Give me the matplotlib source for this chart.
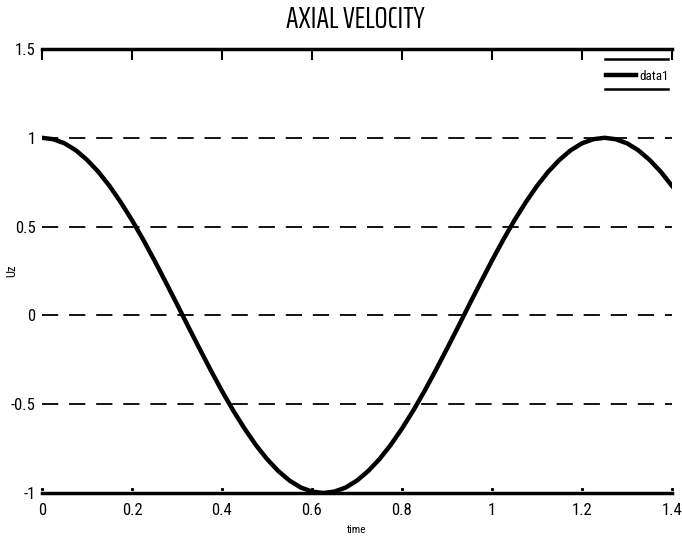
import matplotlib
matplotlib.use("Agg")
import matplotlib.pyplot as plt

plt.rcParams["font.family"] = ["Roboto Condensed", "DejaVu Sans"]
TITLE_FONT = ["Saira ExtraCondensed", "Roboto Condensed", "DejaVu Sans"]

# valores
time = [0.0, 0.025, 0.05, 0.075, 0.1, 0.125, 0.15, 0.175, 0.2, 0.225,
        0.25, 0.275, 0.3, 0.325, 0.35, 0.375, 0.4, 0.425, 0.45, 0.475,
        0.5, 0.525, 0.55, 0.575, 0.6, 0.625, 0.65, 0.675, 0.7, 0.725,
        0.75, 0.775, 0.8, 0.825, 0.85, 0.875, 0.9, 0.925, 0.95, 0.975,
        1.0, 1.025, 1.05, 1.075, 1.1, 1.125, 1.15, 1.175, 1.2, 1.225,
        1.25, 1.275, 1.3, 1.325, 1.35, 1.375, 1.4]
uz = [1.0, 0.992, 0.969, 0.930, 0.876, 0.809, 0.729, 0.637, 0.536, 0.426,
      0.309, 0.187, 0.063, -0.063, -0.187, -0.309, -0.426, -0.536, -0.637, -0.729,
      -0.809, -0.876, -0.930, -0.969, -0.992, -1.0, -0.992, -0.969, -0.930, -0.876,
      -0.809, -0.729, -0.637, -0.536, -0.426, -0.309, -0.187, -0.063, 0.063, 0.187,
      0.309, 0.426, 0.536, 0.637, 0.729, 0.809, 0.876, 0.930, 0.969, 0.992,
      1.0, 0.992, 0.969, 0.930, 0.876, 0.809, 0.729]

xticks = [0, 0.2, 0.4, 0.6, 0.8, 1.0, 1.2, 1.4]
xlabels = ["0", "0.2", "0.4", "0.6", "0.8", "1", "1.2", "1.4"]
yticks = [-1, -0.5, 0, 0.5, 1, 1.5]
ylabels = ["-1", "-0.5", "0", "0.5", "1", "1.5"]

fig = plt.figure(figsize=(6.82, 5.43), dpi=100)
ax = fig.add_axes([42 / 682, 1 - 493 / 543, 630 / 682, 444 / 543])

ax.plot(time, uz, color="black", linewidth=3.2, label="data1", zorder=3)

ax.set_xlim(0, 1.4)
ax.set_ylim(-1, 1.5)
ax.set_xticks(xticks)
ax.set_xticklabels(xlabels, fontsize=12)
ax.set_yticks(yticks)
ax.set_yticklabels(ylabels, fontsize=12)

# rejilla horizontal discontinua
for yv in yticks[1:]:
    ax.axhline(yv, color="black", linewidth=1.3, dashes=(9, 6), zorder=2)

for side in ["left", "right"]:
    ax.spines[side].set_visible(False)
for side in ["top", "bottom"]:
    ax.spines[side].set_linewidth(2.5)

ax.tick_params(axis="x", top=True, bottom=False, direction="in", length=8,
               width=1.5, pad=7)
ax.tick_params(axis="y", left=False, right=False, pad=1)
# marcas pequenas en la base
ax.plot(xticks, [-0.975] * len(xticks), linestyle="none", marker="s",
        markersize=1.2, color="black", clip_on=False)

ax.set_xlabel("time", fontsize=8, labelpad=5)
fig.text(12 / 682, 1 - 271 / 543, "Uz", rotation=90, ha="center", va="center",
         fontsize=9)
fig.text(355 / 682, 1 - 20 / 543, "AXIAL VELOCITY", ha="center", va="center",
         fontsize=22, family=TITLE_FONT)

leg = ax.legend(loc="center", frameon=False, fontsize=9.5, handlelength=2.3,
                handletextpad=0.2, bbox_to_anchor=(0.945, 0.939), borderaxespad=0)
# lineas superior e inferior de la leyenda
ax.plot([0.894, 0.994], [0.977, 0.977], transform=ax.transAxes, color="black",
        linewidth=1.8, clip_on=False)
ax.plot([0.894, 0.994], [0.910, 0.910], transform=ax.transAxes, color="black",
        linewidth=1.8, clip_on=False)

fig.savefig("out.png", dpi=100)
